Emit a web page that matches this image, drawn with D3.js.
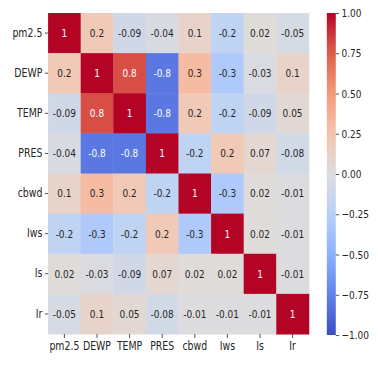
<html>
  <head>
    <meta charset="utf-8" />
    <script src="https://d3js.org/d3.v7.min.js"></script>
    <style>
      body {
        margin: 0;
        background: white;
      }
      text {
        font-family: "DejaVu Sans", sans-serif;
        fill: #262626;
      }
    </style>
  </head>

  <body>
    <svg id="chart" width="378" height="367"></svg>

    <script>
      // variable names, same order on both axes
      const labels = ["pm2.5", "DEWP", "TEMP", "PRES", "cbwd", "Iws", "Is", "Ir"];

      // one array per row of the correlation matrix
      const pm25 = [1, 0.2, -0.09, -0.04, 0.1, -0.2, 0.02, -0.05];
      const dewp = [0.2, 1, 0.8, -0.8, 0.3, -0.3, -0.03, 0.1];
      const temp = [-0.09, 0.8, 1, -0.8, 0.2, -0.2, -0.09, 0.05];
      const pres = [-0.04, -0.8, -0.8, 1, -0.2, 0.2, 0.07, -0.08];
      const cbwd = [0.1, 0.3, 0.2, -0.2, 1, -0.3, 0.02, -0.01];
      const iws = [-0.2, -0.3, -0.2, 0.2, -0.3, 1, 0.02, -0.01];
      const is = [0.02, -0.03, -0.09, 0.07, 0.02, 0.02, 1, -0.01];
      const ir = [-0.05, 0.1, 0.05, -0.08, -0.01, -0.01, -0.01, 1];
      const rows = [pm25, dewp, temp, pres, cbwd, iws, is, ir];

      const colorTicks = [1, 0.75, 0.5, 0.25, 0, -0.25, -0.5, -0.75, -1];

      // matplotlib "coolwarm" (Moreland table, every 4th entry)
      const coolwarm = d3.piecewise(d3.interpolateRgb, [
        "rgb(59,76,192)", "rgb(98,130,234)", "rgb(141,176,254)", "rgb(184,208,249)",
        "rgb(221,221,221)", "rgb(245,196,173)", "rgb(244,154,123)", "rgb(222,96,77)",
        "rgb(180,4,38)"
      ]);
      const color = d3.scaleSequential(coolwarm).domain([-1, 1]);

      // the picture is squeezed sideways, so draw in wider units and scale x
      const sx = 0.815;
      const svg = d3.select("#chart");
      const g = svg.append("g").attr("transform", `scale(${sx},1)`);

      const x = d3.scaleBand().domain(labels).range([59, 379]);
      const y = d3.scaleBand().domain(labels).range([13, 334]);

      const cells = [];
      rows.forEach((r, i) => {
        r.forEach((v, j) => cells.push({ row: labels[i], col: labels[j], v: v }));
      });

      g.selectAll("rect.cell")
        .data(cells)
        .join("rect")
        .attr("class", "cell")
        .attr("x", (d) => x(d.col))
        .attr("y", (d) => y(d.row))
        .attr("width", x.bandwidth() + 0.5)
        .attr("height", y.bandwidth() + 0.5)
        .attr("fill", (d) => color(d.v));

      g.selectAll("text.annot")
        .data(cells)
        .join("text")
        .attr("class", "annot")
        .attr("x", (d) => x(d.col) + x.bandwidth() / 2)
        .attr("y", (d) => y(d.row) + y.bandwidth() / 2)
        .attr("dy", "0.35em")
        .attr("text-anchor", "middle")
        .style("font-size", "11px")
        .style("fill", (d) => (Math.abs(d.v) >= 0.6 ? "white" : "#262626"))
        .text((d) => String(d.v));

      // axes
      const yAxis = g
        .append("g")
        .attr("transform", "translate(59,0)")
        .call(d3.axisLeft(y).tickSize(4).tickPadding(3));
      const xAxis = g
        .append("g")
        .attr("transform", "translate(0,334)")
        .call(d3.axisBottom(x).tickSize(4).tickPadding(4));
      [xAxis, yAxis].forEach((a) => {
        a.select(".domain").remove();
        a.selectAll("line").attr("stroke", "#444");
        a.selectAll("text").style("font-size", "11.5px").style("fill", "#262626");
      });

      // colorbar
      const cb = d3.scaleLinear().domain([-1, 1]).range([335, 13]);
      const defs = svg.append("defs");
      const grad = defs
        .append("linearGradient")
        .attr("id", "cw")
        .attr("x1", 0)
        .attr("y1", 1)
        .attr("x2", 0)
        .attr("y2", 0);
      d3.range(0, 1.001, 0.05).forEach((t) => {
        grad.append("stop").attr("offset", t).attr("stop-color", coolwarm(t));
      });
      g.append("rect")
        .attr("x", 401)
        .attr("y", cb(1))
        .attr("width", 11)
        .attr("height", cb(-1) - cb(1))
        .attr("fill", "url(#cw)");
      const cAxis = g
        .append("g")
        .attr("transform", "translate(412,0)")
        .call(
          d3.axisRight(cb).tickValues(colorTicks).tickSize(4).tickPadding(3)
            .tickFormat((d) => d3.format(".2f")(d).replace("-", "\u2212"))
        );
      cAxis.select(".domain").remove();
      cAxis.selectAll("line").attr("stroke", "#444");
      cAxis.selectAll("text").style("font-size", "11px").style("fill", "#262626");
    </script>
  </body>
</html>
